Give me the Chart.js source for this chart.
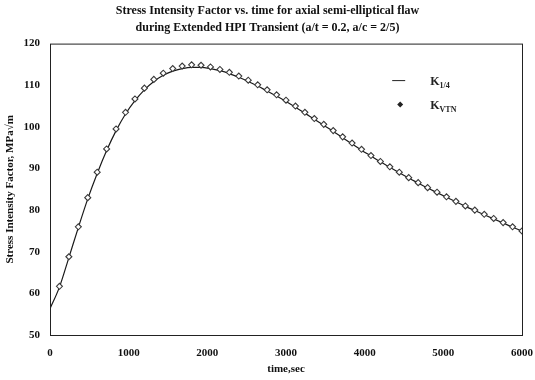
<!DOCTYPE html>
<html>
<head>
<meta charset="utf-8">
<script src="https://cdn.jsdelivr.net/npm/chart.js@4.4.1/dist/chart.umd.min.js"></script>
<style>
  html, body { margin: 0; padding: 0; background: #fff; }
  #wrap { width: 535px; height: 380px; }
</style>
</head>
<body>
<div id="wrap"><canvas id="kChart" width="535" height="380"></canvas></div>
<script>
// time axis (sec) for each curve
const lineTimes = [0, 120, 240, 360, 480, 600, 720, 840, 960, 1080, 1200, 1320, 1440, 1560, 1680, 1800, 1920, 2040, 2160, 2280, 2400, 2520, 2640, 2760, 2880, 3000, 3120, 3240, 3360, 3480, 3600, 3720, 3840, 3960, 4080, 4200, 4320, 4440, 4560, 4680, 4800, 4920, 5040, 5160, 5280, 5400, 5520, 5640, 5760, 5880, 6000];
const kQuarter = [56.3, 61.5, 68.6, 75.8, 82.7, 88.8, 94.3, 99.1, 103.1, 106.3, 108.9, 110.9, 112.4, 113.4, 114.0, 114.3, 114.3, 114.0, 113.5, 112.8, 111.9, 110.9, 109.8, 108.6, 107.4, 106.1, 104.7, 103.3, 101.8, 100.4, 98.9, 97.4, 95.9, 94.4, 93.0, 91.6, 90.3, 89.0, 87.7, 86.5, 85.3, 84.2, 83.1, 82.0, 80.9, 79.9, 78.9, 77.9, 76.9, 75.9, 75.0];

const markerTimes = [120, 240, 360, 480, 600, 720, 840, 960, 1080, 1200, 1320, 1440, 1560, 1680, 1800, 1920, 2040, 2160, 2280, 2400, 2520, 2640, 2760, 2880, 3000, 3120, 3240, 3360, 3480, 3600, 3720, 3840, 3960, 4080, 4200, 4320, 4440, 4560, 4680, 4800, 4920, 5040, 5160, 5280, 5400, 5520, 5640, 5760, 5880, 6000];
const kVtn = [61.7, 68.8, 76.0, 83.0, 89.1, 94.7, 99.5, 103.5, 106.7, 109.3, 111.4, 112.9, 114.0, 114.6, 114.9, 114.8, 114.4, 113.8, 113.1, 112.2, 111.2, 110.1, 108.9, 107.7, 106.4, 105.0, 103.5, 102.0, 100.6, 99.1, 97.6, 96.1, 94.6, 93.1, 91.7, 90.4, 89.1, 87.8, 86.6, 85.4, 84.3, 83.2, 82.1, 81.0, 80.0, 79.0, 78.0, 77.0, 76.0, 75.0];

const titleLines = ['Stress Intensity Factor vs. time for axial semi-elliptical flaw', 'during Extended HPI Transient (a/t = 0.2, a/c = 2/5)'];
const xTitle = 'time,sec';
const yTitle = 'Stress Intensity Factor, MPa\u221Am';

const serif = '"Liberation Serif", "DejaVu Serif", serif';

// box around the plot + legend with subscripts
const framePlugin = {
  id: 'frame',
  afterDraw(chart) {
    const { ctx, chartArea: a } = chart;
    ctx.save();
    ctx.strokeStyle = '#222';
    ctx.lineWidth = 1;
    ctx.strokeRect(a.left + 0.5, a.top + 0.5, a.right - a.left, a.bottom - a.top);

    // legend
    const lx = a.left + (a.right - a.left) * 0.725;
    const ly1 = a.top + 37;
    const ly2 = a.top + 61;
    ctx.strokeStyle = '#222';
    ctx.beginPath();
    ctx.moveTo(lx, ly1);
    ctx.lineTo(lx + 13, ly1);
    ctx.stroke();

    ctx.fillStyle = '#222';
    ctx.beginPath();
    ctx.moveTo(lx + 8, ly2 - 3);
    ctx.lineTo(lx + 11, ly2);
    ctx.lineTo(lx + 8, ly2 + 3);
    ctx.lineTo(lx + 5, ly2);
    ctx.closePath();
    ctx.fill();

    const tx = lx + 38;
    ctx.textBaseline = 'alphabetic';
    ctx.textAlign = 'left';
    ctx.font = 'bold 12px ' + serif;
    ctx.fillText('K', tx, ly1 + 4);
    let w = ctx.measureText('K').width;
    ctx.font = 'bold 8px ' + serif;
    ctx.fillText('1/4', tx + w, ly1 + 7);

    ctx.font = 'bold 12px ' + serif;
    ctx.fillText('K', tx, ly2 + 4);
    ctx.font = 'bold 8px ' + serif;
    ctx.fillText('VTN', tx + w, ly2 + 7);
    ctx.restore();
  }
};

const ctx = document.getElementById('kChart').getContext('2d');
new Chart(ctx, {
  type: 'line',
  data: {
    datasets: [
      {
        label: 'K1/4',
        data: lineTimes.map((t, i) => ({ x: t, y: kQuarter[i] })),
        borderColor: '#1a1a1a',
        borderWidth: 1.2,
        pointRadius: 0,
        cubicInterpolationMode: 'monotone',
        fill: false,
        order: 2
      },
      {
        label: 'KVTN',
        data: markerTimes.map((t, i) => ({ x: t, y: kVtn[i] })),
        showLine: false,
        pointStyle: 'rectRot',
        pointRadius: 3,
        pointBorderWidth: 1.1,
        pointBorderColor: '#3a3a3a',
        pointBackgroundColor: '#ffffff',
        order: 1
      }
    ]
  },
  options: {
    responsive: false,
    animation: false,
    layout: { padding: { left: 0, right: 0, top: 0, bottom: 0 } },
    plugins: {
      legend: { display: false },
      tooltip: { enabled: false },
      title: {
        display: true,
        text: titleLines,
        color: '#111',
        font: { family: serif, size: 12, weight: 'bold', lineHeight: 1.4 },
        padding: { top: 3, bottom: 7 }
      }
    },
    scales: {
      x: {
        type: 'linear',
        min: 0,
        max: 6000,
        grid: { display: false, drawTicks: false },
        border: { display: false },
        afterFit(scale) {
          scale.height = 45;
          scale.paddingRight = 13;
        },
        ticks: {
          stepSize: 1000,
          padding: 12,
          color: '#111',
          font: { family: serif, size: 11, weight: 'bold' },
          maxRotation: 0,
          callback: (v) => String(v)
        },
        title: {
          display: true,
          text: xTitle,
          color: '#111',
          font: { family: serif, size: 11, weight: 'bold' },
          padding: { top: 8 }
        }
      },
      y: {
        min: 50,
        max: 120,
        grid: { display: false, drawTicks: false },
        border: { display: false },
        afterFit(scale) { scale.width = 50; },
        ticks: {
          stepSize: 10,
          padding: 10,
          color: '#111',
          font: { family: serif, size: 11, weight: 'bold' }
        },
        title: {
          display: true,
          text: yTitle,
          color: '#111',
          font: { family: serif, size: 11, weight: 'bold' },
          padding: { bottom: 2 }
        }
      }
    }
  },
  plugins: [framePlugin]
});
</script>
</body>
</html>
